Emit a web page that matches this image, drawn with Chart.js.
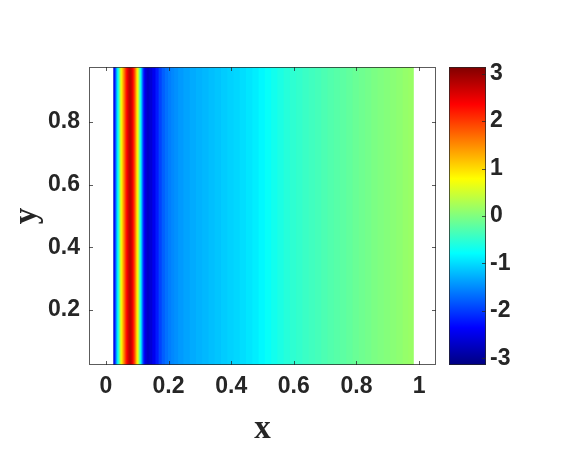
<!DOCTYPE html>
<html>
<head>
<meta charset="utf-8">
<script src="https://cdn.jsdelivr.net/npm/chart.js@4"></script>
<style>
  html, body { margin: 0; padding: 0; background: #fff; }
  #wrap { position: relative; width: 566px; height: 454px; }
  canvas { position: absolute; left: 0; top: 0; }
</style>
</head>
<body>
<div id="wrap">
  <canvas id="plot" width="566" height="454"></canvas>
  <canvas id="cbar" width="566" height="454"></canvas>
</div>
<script>
// column positions (x) and the value for each column
const xCols = [
  0.0265, 0.0297, 0.0329, 0.036, 0.0393, 0.0425, 0.0457, 0.0489, 0.052, 0.0553,
  0.0585, 0.0617, 0.0649, 0.0681, 0.0712, 0.0744, 0.0776, 0.0808, 0.084, 0.0872,
  0.0904, 0.0936, 0.0968, 0.1, 0.1031, 0.1063, 0.1095, 0.1127, 0.1159, 0.1192,
  0.1224, 0.1256, 0.1288,
  0.135, 0.145, 0.155, 0.165, 0.175, 0.185, 0.195, 0.205, 0.215, 0.225, 0.24,
  0.26, 0.28, 0.30, 0.32, 0.34, 0.36, 0.38, 0.40, 0.42, 0.44, 0.46, 0.48,
  0.50, 0.52, 0.54, 0.56, 0.58, 0.60, 0.62, 0.64, 0.66, 0.68, 0.70, 0.72,
  0.74, 0.76, 0.78, 0.80, 0.82, 0.84, 0.86, 0.88, 0.90, 0.92, 0.94, 0.96, 0.974
];
const phase = [
  -2.6, -2.2, -1.7, -1.2, -0.8, -0.4, 0.1, 0.6, 0.9, 1.2,
  1.5, 1.8, 2.1, 2.35, 2.55, 2.7, 2.8, 2.75, 2.6, 2.4,
  2.1, 1.8, 1.4, 1.0, 0.7, 0.2, -0.3, -0.8, -1.3, -1.8,
  -2.2, -2.45, -2.6,
  -2.7, -2.62, -2.45, -2.2, -1.95, -1.78, -1.66, -1.58, -1.52, -1.47, -1.41,
  -1.35, -1.3, -1.26, -1.22, -1.18, -1.14, -1.1, -1.06, -1.03, -0.99, -0.94, -0.89,
  -0.82, -0.75, -0.68, -0.62, -0.56, -0.51, -0.47, -0.43, -0.39, -0.36, -0.32, -0.28,
  -0.25, -0.22, -0.18, -0.14, -0.1, -0.07, -0.03, 0.0, 0.03, 0.06, 0.09, 0.13, 0.16
];
const yExtent = [0.025, 0.975];
const xTickVals = [0, 0.2, 0.4, 0.6, 0.8, 1];
const yTickVals = [0.2, 0.4, 0.6, 0.8];
const cTickVals = [-3, -2, -1, 0, 1, 2, 3];
const cLim = [-Math.PI, Math.PI];

const ink = '#262626';
const tickFont = { family: '"Liberation Sans", Arial, sans-serif', size: 23, weight: 'bold' };
const titleFont = { family: '"Liberation Serif", "Times New Roman", serif', size: 33, weight: 'bold' };

// jet colormap
const jetStops = [[0, '#000080'], [0.125, '#0000ff'], [0.375, '#00ffff'], [0.625, '#ffff00'], [0.875, '#ff0000'], [1, '#800000']];
function jet(v) {
  const t = (v - cLim[0]) / (cLim[1] - cLim[0]);
  const c = k => Math.round(255 * Math.max(0, Math.min(1, 1.5 - Math.abs(4 * t - k))));
  return `rgb(${c(3)},${c(2)},${c(1)})`;
}

const fmt = v => String(+v.toFixed(2));
const setTicks = vals => s => { s.ticks = vals.map(v => ({ value: v })); };

// box + inward tick marks, matlab style
const boxTicks = {
  id: 'boxTicks',
  afterDraw(chart) {
    const { ctx, chartArea: a, scales } = chart;
    ctx.save();
    ctx.strokeStyle = 'rgba(38,38,38,0.75)';
    ctx.lineWidth = 1;
    ctx.strokeRect(a.left + 0.5, a.top + 0.5, a.right - a.left - 1, a.bottom - a.top - 1);
    ctx.beginPath();
    if (scales.x && scales.x.options.display) {
      xTickVals.forEach(v => {
        const p = Math.round(scales.x.getPixelForValue(v)) + 0.5;
        ctx.moveTo(p, a.bottom); ctx.lineTo(p, a.bottom - 4);
        ctx.moveTo(p, a.top); ctx.lineTo(p, a.top + 4);
      });
      yTickVals.forEach(v => {
        const p = Math.round(scales.y.getPixelForValue(v)) + 0.5;
        ctx.moveTo(a.left, p); ctx.lineTo(a.left + 4, p);
        ctx.moveTo(a.right, p); ctx.lineTo(a.right - 4, p);
      });
    } else {
      cTickVals.forEach(v => {
        const p = Math.round(scales.y.getPixelForValue(v)) + 0.5;
        ctx.moveTo(a.right, p); ctx.lineTo(a.right - 4, p);
      });
    }
    ctx.stroke();
    ctx.restore();
  }
};

new Chart(document.getElementById('plot'), {
  type: 'bar',
  data: {
    datasets: [{
      data: xCols.map(x => ({ x: x, y: yExtent })),
      backgroundColor: phase.map(jet),
      borderWidth: 0,
      barThickness: 'flex',
      barPercentage: 1,
      categoryPercentage: 1.15
    }]
  },
  options: {
    responsive: false,
    animation: false,
    layout: { padding: { left: 0, top: 67, right: 130, bottom: 0 } },
    plugins: { legend: { display: false }, tooltip: { enabled: false } },
    scales: {
      x: {
        type: 'linear', min: -0.054, max: 1.054, offset: false,
        afterBuildTicks: setTicks(xTickVals),
        afterFit: s => { s.height = 89; },
        grid: { display: false, drawTicks: false },
        border: { display: false },
        ticks: { font: tickFont, color: ink, padding: 8, maxRotation: 0, autoSkip: false, callback: fmt },
        title: { display: true, text: 'x', font: titleFont, color: ink, padding: { top: 0, bottom: 5 } }
      },
      y: {
        type: 'linear', min: yExtent[0], max: yExtent[1], offset: false,
        afterBuildTicks: setTicks(yTickVals),
        afterFit: s => { s.width = 89; },
        grid: { display: false, drawTicks: false },
        border: { display: false },
        ticks: { font: tickFont, color: ink, padding: 9, autoSkip: false, callback: fmt },
        title: { display: true, text: 'y', font: titleFont, color: ink, padding: { top: 8, bottom: 0 } }
      }
    }
  },
  plugins: [boxTicks]
});

new Chart(document.getElementById('cbar'), {
  type: 'bar',
  data: {
    labels: ['c'],
    datasets: [{
      data: [cLim],
      backgroundColor: c => {
        const s = c.chart.scales.y;
        const y0 = s ? s.getPixelForValue(cLim[0]) : NaN;
        const y1 = s ? s.getPixelForValue(cLim[1]) : NaN;
        if (!isFinite(y0) || !isFinite(y1) || y0 === y1) return '#00ffff';
        const g = c.chart.ctx.createLinearGradient(0, y0, 0, y1);
        jetStops.forEach(([p, col]) => g.addColorStop(p, col));
        return g;
      },
      borderWidth: 0,
      barPercentage: 1,
      categoryPercentage: 1
    }]
  },
  options: {
    responsive: false,
    animation: false,
    layout: { padding: { left: 449, top: 67, right: 0, bottom: 89 } },
    plugins: { legend: { display: false }, tooltip: { enabled: false } },
    scales: {
      x: { display: false },
      y: {
        position: 'right',
        type: 'linear', min: cLim[0], max: cLim[1],
        afterBuildTicks: setTicks(cTickVals),
        afterFit: s => { s.width = 80; },
        grid: { display: false, drawTicks: false },
        border: { display: false },
        ticks: { font: tickFont, color: ink, padding: 4, autoSkip: false, callback: fmt }
      }
    }
  },
  plugins: [boxTicks]
});
</script>
</body>
</html>
